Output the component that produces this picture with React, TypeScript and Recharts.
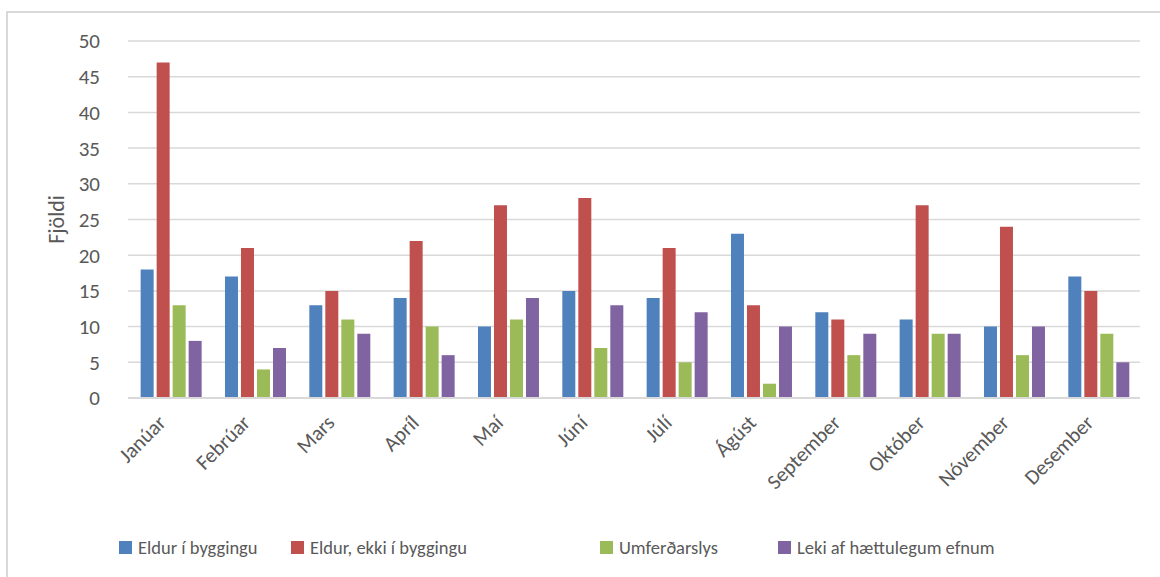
import React from 'react';
import { BarChart, Bar, XAxis, YAxis, CartesianGrid, Legend } from 'recharts';

const months = ['Janúar', 'Febrúar', 'Mars', 'Apríl', 'Maí', 'Júní', 'Júlí', 'Ágúst', 'September', 'Október', 'Nóvember', 'Desember'];
const eldurIByggingu = [18, 17, 13, 14, 10, 15, 14, 23, 12, 11, 10, 17];
const eldurEkkiIByggingu = [47, 21, 15, 22, 27, 28, 21, 13, 11, 27, 24, 15];
const umferdarslys = [13, 4, 11, 10, 11, 7, 5, 2, 6, 9, 6, 9];
const lekiAfHaettulegum = [8, 7, 9, 6, 14, 13, 12, 10, 9, 9, 10, 5];
const yTicks = [0, 5, 10, 15, 20, 25, 30, 35, 40, 45, 50];

const series = [
  { key: 'a', name: 'Eldur í byggingu', color: '#4f81bd', values: eldurIByggingu },
  { key: 'b', name: 'Eldur, ekki í byggingu', color: '#c0504d', values: eldurEkkiIByggingu },
  { key: 'c', name: 'Umferðarslys', color: '#9bbb59', values: umferdarslys },
  { key: 'd', name: 'Leki af hættulegum efnum', color: '#8064a2', values: lekiAfHaettulegum },
];

const data = months.map((m, i) => {
  const row: Record<string, string | number> = { month: m };
  series.forEach((s) => { row[s.key] = s.values[i]; });
  return row;
});

const FONT = "Carlito, Calibri, Lato, sans-serif";
const TEXT = '#595959';
const legendX = [119, 291, 600, 778];

const MonthTick = (props: any) => {
  const { x, y, payload } = props;
  const ax = x - 3;
  const ay = y + 18;
  return (
    <text x={ax} y={ay} transform={`rotate(-45, ${ax}, ${ay})`} textAnchor="end"
      fill={TEXT} fontSize={21} fontFamily={FONT}>
      {payload.value}
    </text>
  );
};

const renderLegend = () => (
  <div style={{ position: 'relative', height: 40 }}>
    {series.map((s, i) => (
      <div key={s.key} style={{ position: 'absolute', left: legendX[i], top: 0, height: 40, display: 'flex', alignItems: 'center', fontFamily: FONT, fontSize: 18.5, color: TEXT, whiteSpace: 'nowrap' }}>
        <span style={{ display: 'inline-block', width: 13, height: 13, background: s.color, marginRight: 6 }} />
        {s.name}
      </div>
    ))}
  </div>
);

export default function App() {
  return (
    <div style={{ position: 'absolute', left: 0, top: 0, width: 1160, height: 577, overflow: 'hidden', background: '#fff' }}>
      <div style={{ position: 'absolute', left: 6, top: 11, width: 1170, height: 600, border: '2px solid #d9d9d9', boxSizing: 'border-box' }} />
      <div style={{ position: 'absolute', left: 0, top: 0 }}>
        <BarChart width={1160} height={577} data={data} margin={{ top: 41, right: 20, left: 0, bottom: 10 }}
          barCategoryGap="15%" barGap={3}>
          <CartesianGrid vertical={false} stroke="#d9d9d9" strokeWidth={1.5} />
          <XAxis dataKey="month" height={129} interval={0} tickLine={false} axisLine={{ stroke: '#d9d9d9', strokeWidth: 2 }} tick={<MonthTick />} />
          <YAxis width={128} domain={[0, 50]} ticks={yTicks} interval={0} tickLine={false} axisLine={false}
            tick={{ fill: TEXT, fontSize: 21, fontFamily: FONT }} tickMargin={22}
            label={{ value: 'Fjöldi', angle: -90, position: 'insideLeft', offset: 56, fill: TEXT, fontSize: 22, fontFamily: FONT, style: { textAnchor: 'middle' } }} />
          <Legend verticalAlign="bottom" height={40} content={renderLegend} wrapperStyle={{ left: 0, width: 1160 }} />
          {series.map((s) => (
            <Bar key={s.key} dataKey={s.key} name={s.name} fill={s.color} isAnimationActive={false} />
          ))}
        </BarChart>
      </div>
    </div>
  );
}
